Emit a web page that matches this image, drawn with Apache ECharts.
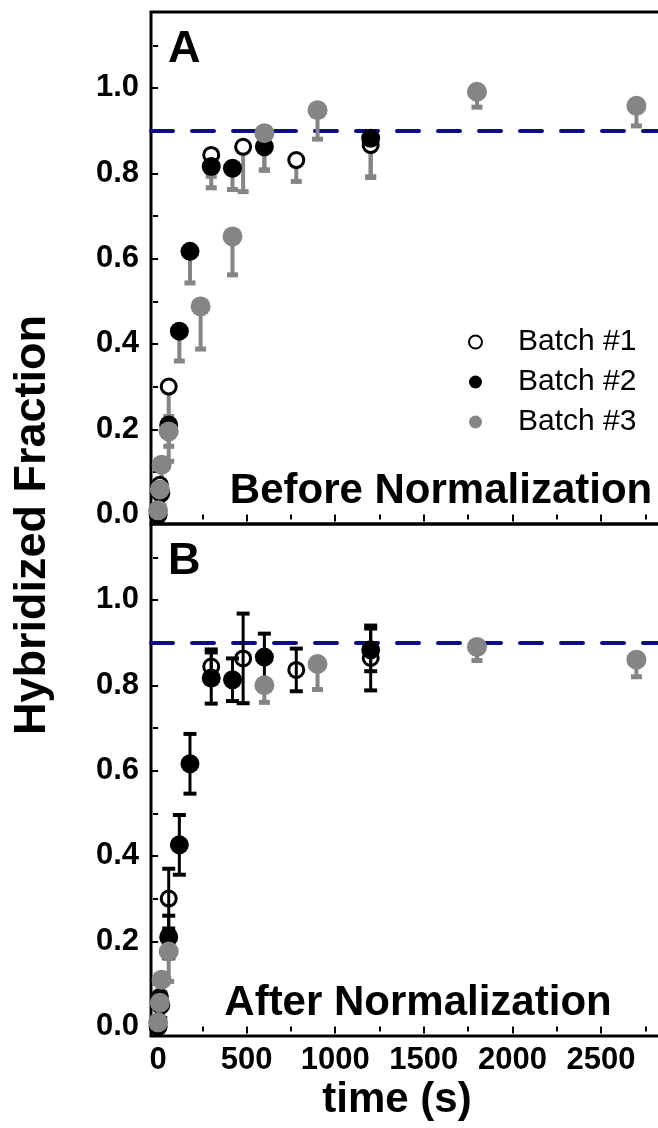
<!DOCTYPE html>
<html><head><meta charset="utf-8">
<script src="https://cdn.jsdelivr.net/npm/echarts@6/dist/echarts.min.js"></script>
<style>html,body{margin:0;padding:0;background:#fff}#c{width:658px;height:1128px}</style>
</head><body><div id="c"></div><script>
// ---- tick values ----
const xTicks = [0, 500, 1000, 1500, 2000, 2500];
const xMinorTicks = [250, 750, 1250, 1750, 2250, 2750];
const yTicks = [0, 0.2, 0.4, 0.6, 0.8, 1.0];
const yMinorTicks = [0.1, 0.3, 0.5, 0.7, 0.9, 1.1];
const refLevel = 0.9;

// ---- Panel A: before normalization ----
const b1TimeA = [0, 10, 60, 300, 480, 780, 1200];
const b1ValA  = [0.0, 0.07, 0.30, 0.843, 0.862, 0.831, 0.866];
const b1ErrA  = [0.0, 0.03, 0.07, 0.05, 0.105, 0.05, 0.076];

const b2TimeA = [0, 15, 60, 120, 180, 300, 420, 600, 1200];
const b2ValA  = [0.0, 0.05, 0.21, 0.43, 0.617, 0.816, 0.812, 0.862, 0.882];
const b2ErrA  = [0.0, 0.03, 0.05, 0.07, 0.074, 0.05, 0.05, 0.055, 0.09];

const b3TimeA = [0, 10, 20, 60, 240, 420, 600, 900, 1800, 2700];
const b3ValA  = [0.01, 0.059, 0.117, 0.195, 0.488, 0.652, 0.894, 0.948, 0.991, 0.958];
const b3ErrA  = [0.01, 0.03, 0.05, 0.07, 0.10, 0.09, 0.086, 0.068, 0.036, 0.047];

// ---- Panel B: after normalization ----
const b1TimeB = [0, 10, 60, 300, 480, 780, 1200];
const b1ValB  = [0.0, 0.07, 0.30, 0.844, 0.863, 0.836, 0.864];
const b1ErrB  = [0.0, 0.03, 0.07, 0.04, 0.105, 0.05, 0.076];

const b2TimeB = [0, 15, 60, 120, 180, 300, 420, 600, 1200];
const b2ValB  = [0.0, 0.05, 0.21, 0.426, 0.616, 0.817, 0.813, 0.866, 0.883];
const b2ErrB  = [0.0, 0.03, 0.05, 0.07, 0.07, 0.06, 0.05, 0.055, 0.05];

const b3TimeB = [0, 10, 20, 60, 600, 900, 1800, 2700];
const b3ValB  = [0.01, 0.056, 0.11, 0.176, 0.80, 0.85, 0.89, 0.86];
const b3ErrB  = [0.01, 0.03, 0.04, 0.07, 0.04, 0.06, 0.032, 0.04];

const names = ['Batch #1', 'Batch #2', 'Batch #3'];

// ---------------------------------------------------------------
const FONT = '"Liberation Sans", Arial, Helvetica, sans-serif';
const GRAY = '#858585';
const NAVY = '#0c0c88';
const X_MIN = -40, X_MAX = 2850, Y_MIN = -0.022, Y_MAX = 1.178;

function pts(t, v) { return t.map((x, i) => [x, v[i]]); }
function errPts(t, v, e) { return t.map((x, i) => [x, v[i], e[i]]); }

function errRender(color, stemW, capW, capH, twoSided) {
  return function (params, api) {
    const t = api.value(0), v = api.value(1), e = api.value(2);
    if (!(e > 0)) return null;
    const pc = api.coord([t, v]);
    const pl = api.coord([t, v - e]);
    const ph = twoSided ? api.coord([t, v + e]) : pc;
    const children = [
      { type: 'line', shape: { x1: pc[0], y1: ph[1], x2: pc[0], y2: pl[1] }, style: { stroke: color, lineWidth: stemW } },
      { type: 'rect', shape: { x: pl[0] - capW / 2, y: pl[1] - capH / 2, width: capW, height: capH }, style: { fill: color } }
    ];
    if (twoSided) children.push({ type: 'rect', shape: { x: ph[0] - capW / 2, y: ph[1] - capH / 2, width: capW, height: capH }, style: { fill: color } });
    return { type: 'group', children: children };
  };
}

function xAxes(gridIndex, labels) {
  return [
    { type: 'value', gridIndex, position: 'bottom', min: X_MIN, max: X_MAX,
      axisLine: { show: false }, splitLine: { show: false },
      axisTick: { show: true, inside: false, length: 7, lineStyle: { color: '#000', width: 2 }, customValues: xTicks },
      axisLabel: { show: labels, customValues: xTicks, margin: 9, color: '#000', fontSize: 31, fontWeight: 'bold', fontFamily: FONT,
        formatter: v => String(Math.round(v)) } },
    { type: 'value', gridIndex, position: 'bottom', min: X_MIN, max: X_MAX,
      axisLine: { show: false }, splitLine: { show: false }, axisLabel: { show: false },
      axisTick: { show: true, inside: false, length: 5, lineStyle: { color: '#000', width: 2 }, customValues: xMinorTicks } }
  ];
}
function yAxes(gridIndex) {
  return [
    { type: 'value', gridIndex, position: 'left', min: Y_MIN, max: Y_MAX,
      axisLine: { show: false }, splitLine: { show: false },
      axisTick: { show: true, inside: false, length: 8, lineStyle: { color: '#000', width: 2 }, customValues: yTicks },
      axisLabel: { show: true, customValues: yTicks, margin: 12, color: '#000', fontSize: 31, fontWeight: 'bold', fontFamily: FONT,
        formatter: v => v.toFixed(1) } },
    { type: 'value', gridIndex, position: 'left', min: Y_MIN, max: Y_MAX,
      axisLine: { show: false }, splitLine: { show: false }, axisLabel: { show: false },
      axisTick: { show: true, inside: false, length: 5, lineStyle: { color: '#000', width: 2 }, customValues: yMinorTicks } }
  ];
}

const openStyle = { color: '#ffffff', borderColor: '#000', borderWidth: 3, opacity: 1 };
const blackStyle = { color: '#000', opacity: 1 };
const grayStyle = { color: GRAY, opacity: 1 };

function refLine() {
  return { silent: true, symbol: ['none', 'none'], z: 1, label: { show: false },
    lineStyle: { color: NAVY, width: 4, type: [22, 19], cap: 'round' },
    emphasis: { disabled: true }, data: [{ yAxis: refLevel }] };
}

function panelSeries(xi, yi, d) {
  const s = [];
  s.push({ name: 'err1', type: 'custom', xAxisIndex: xi, yAxisIndex: yi, z: d.errZ12,
    renderItem: errRender(d.err12Color, d.stemW, d.capW, d.capH, d.twoSided), data: errPts(d.t1, d.v1, d.e1), markLine: refLine() });
  s.push({ name: 'err2', type: 'custom', xAxisIndex: xi, yAxisIndex: yi, z: d.errZ12,
    renderItem: errRender(d.err12Color, d.stemW, d.capW, d.capH, d.twoSided), data: errPts(d.t2, d.v2, d.e2) });
  s.push({ name: 'err3', type: 'custom', xAxisIndex: xi, yAxisIndex: yi, z: 2,
    renderItem: errRender(GRAY, 4, 11, 5, false), data: errPts(d.t3, d.v3, d.e3) });
  s.push({ name: names[0], type: 'scatter', xAxisIndex: xi, yAxisIndex: yi, z: 3, symbol: 'circle', symbolSize: 15,
    itemStyle: openStyle, data: pts(d.t1, d.v1) });
  s.push({ name: names[1], type: 'scatter', xAxisIndex: xi, yAxisIndex: yi, z: 4, symbol: 'circle', symbolSize: 19,
    itemStyle: blackStyle, data: pts(d.t2, d.v2) });
  s.push({ name: names[2], type: 'scatter', xAxisIndex: xi, yAxisIndex: yi, z: 7, symbol: 'circle', symbolSize: 20,
    itemStyle: grayStyle, data: pts(d.t3, d.v3) });
  return s;
}

const seriesA = panelSeries(0, 0, { t1: b1TimeA, v1: b1ValA, e1: b1ErrA, t2: b2TimeA, v2: b2ValA, e2: b2ErrA,
  t3: b3TimeA, v3: b3ValA, e3: b3ErrA, err12Color: GRAY, stemW: 4, capW: 11, capH: 5, twoSided: false, errZ12: 2 });
const seriesB = panelSeries(2, 2, { t1: b1TimeB, v1: b1ValB, e1: b1ErrB, t2: b2TimeB, v2: b2ValB, e2: b2ErrB,
  t3: b3TimeB, v3: b3ValB, e3: b3ErrB, err12Color: '#000', stemW: 3, capW: 13, capH: 4, twoSided: true, errZ12: 5 });

const textBase = { fill: '#000', fontFamily: FONT, fontWeight: 'bold' };
const option = {
  animation: false,
  backgroundColor: '#fff',
  grid: [
    { left: 151, top: 12, width: 512, height: 512, show: true, borderColor: '#000', borderWidth: 3, backgroundColor: 'transparent', outerBoundsMode: 'none', containLabel: false },
    { left: 151, top: 524, width: 512, height: 512, show: true, borderColor: '#000', borderWidth: 3, backgroundColor: 'transparent', outerBoundsMode: 'none', containLabel: false }
  ],
  xAxis: [].concat(xAxes(0, false), xAxes(1, true)),
  yAxis: [].concat(yAxes(0), yAxes(1)),
  legend: {
    data: names, orient: 'vertical', left: 463, top: 322, itemWidth: 13, itemHeight: 13, itemGap: 10,
    selectedMode: false, icon: 'circle',
    textStyle: { color: '#000', fontSize: 30, fontFamily: FONT, lineHeight: 30, padding: [0, 0, 0, 31] }
  },
  graphic: [
    { type: 'text', left: 168, top: 27, style: Object.assign({ text: 'A', fontSize: 45 }, textBase) },
    { type: 'text', left: 168, top: 539, style: Object.assign({ text: 'B', fontSize: 45 }, textBase) },
    { type: 'text', x: 441, y: 491, style: Object.assign({ text: 'Before Normalization', fontSize: 42, textAlign: 'center', textVerticalAlign: 'middle' }, textBase) },
    { type: 'text', x: 418, y: 1003, style: Object.assign({ text: 'After Normalization', fontSize: 42, textAlign: 'center', textVerticalAlign: 'middle' }, textBase) },
    { type: 'text', x: 397, y: 1100, style: Object.assign({ text: 'time (s)', fontSize: 42, textAlign: 'center', textVerticalAlign: 'middle' }, textBase) },
    { type: 'text', x: 33, y: 525, rotation: Math.PI / 2, style: Object.assign({ text: 'Hybridized Fraction', fontSize: 45, textAlign: 'center', textVerticalAlign: 'middle' }, textBase) }
  ],
  series: [].concat(seriesA, seriesB)
};

const chart = echarts.init(document.getElementById('c'), null, { renderer: 'canvas' });
chart.setOption(option);
</script></body></html>
